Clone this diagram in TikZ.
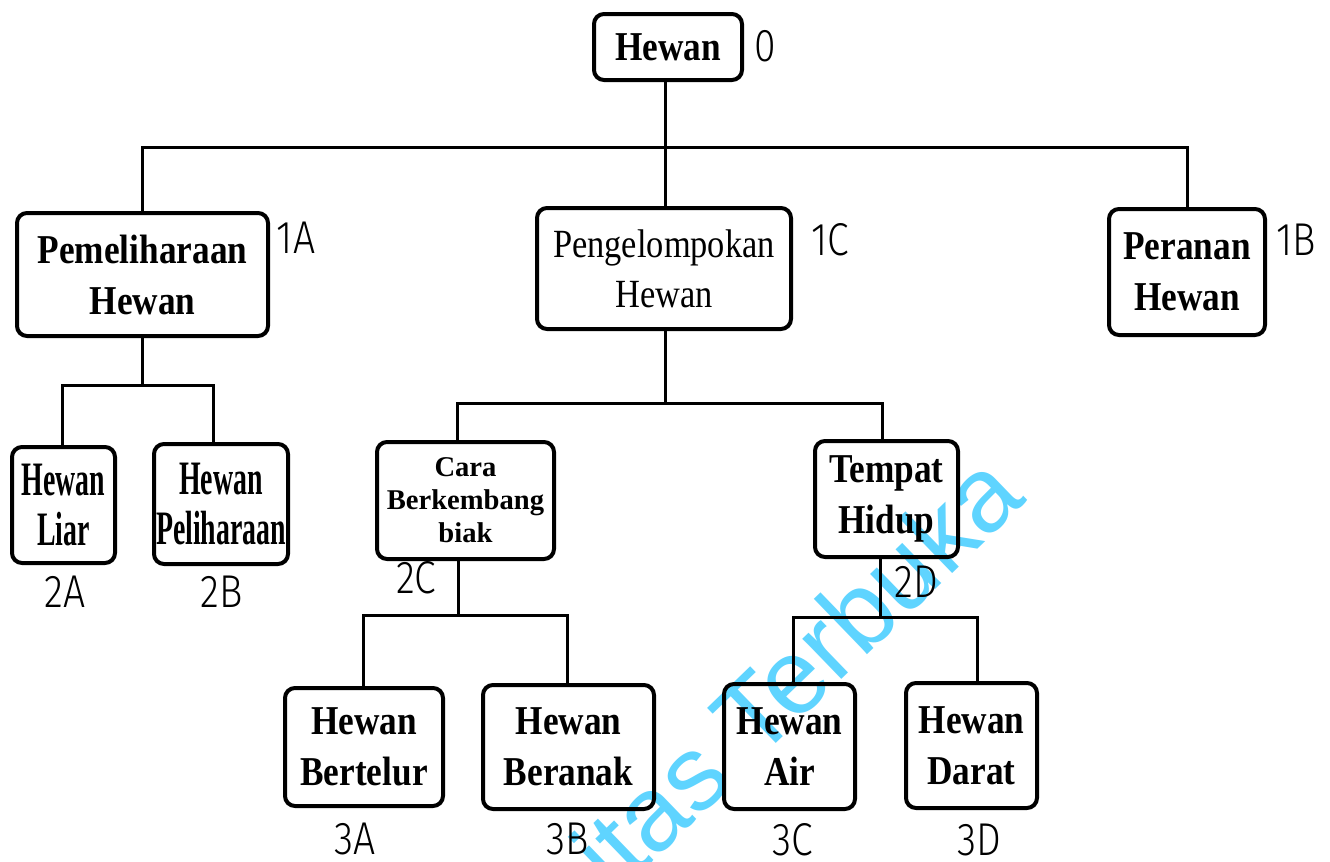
\documentclass[tikz,border=0pt]{standalone}
\usepackage{fontspec}
\setmainfont{Liberation Serif}
\newfontfamily\serA[FakeStretch=0.86]{Liberation Serif}
\newfontfamily\serB[FakeStretch=0.58]{Liberation Serif}
\newfontfamily\wmfont{Liberation Sans}
\IfFontExistsTF{Fira Sans Light}{\newfontfamily\lblfont[FakeStretch=0.85]{Fira Sans Light}}{\newfontfamily\lblfont[FakeStretch=0.8]{Liberation Sans}}
\definecolor{wmcyan}{RGB}{95,212,255}
\tikzset{
  box/.style={draw, line width=2pt, rounded corners=5pt, inner sep=0pt, align=center},
  tA/.style={font=\serA\bfseries\fontsize{20.5}{25.5}\selectfont},
  tR/.style={font=\serA\fontsize{20}{25}\selectfont},
  tB/.style={font=\serB\bfseries\fontsize{24}{25}\selectfont},
  tC/.style={font=\bfseries\fontsize{14.3}{16.5}\selectfont},
  conn/.style={line width=1.5pt},
  lbl/.style={font=\lblfont\fontsize{23}{23}\selectfont, inner sep=0pt},
  wm/.style={font=\wmfont\fontsize{53}{53}\selectfont, text=wmcyan, inner sep=0pt}
}
\begin{document}
\begin{tikzpicture}[x=0.5pt, y=-0.5pt]
\path[use as bounding box, fill=white] (0,0) rectangle (1330,862);

% watermark (under the drawing)
\node[wm, rotate=44, anchor=base east] (wmark) at (1028,500) {itas Terbuka};

% boxes
\node[box, tA, minimum width=74pt, minimum height=33pt] (n0) at (668,47) {Hewan};
\node[box, tA, minimum width=125.5pt, minimum height=61.5pt] (n1A) at (142.5,274.5) {Pemeliharaan\\Hewan};
\node[box, tR, minimum width=127pt, minimum height=60.5pt] (n1C) at (664,268.5) {Pengelompokan\\Hewan};
\node[box, tA, minimum width=78pt, minimum height=63pt] (n1B) at (1187,272) {Peranan\\Hewan};
\node[box, tB, minimum width=51.5pt, minimum height=58pt] (n2A) at (63.5,505) {Hewan\\Liar};
\node[box, tB, minimum width=67pt, minimum height=60pt] (n2B) at (221,504) {Hewan\\Peliharaan};
\node[box, tC, minimum width=88.5pt, minimum height=58.5pt] (n2C) at (465.5,500.5) {Cara\\Berkembang\\biak};
\node[box, tA, minimum width=71.5pt, minimum height=58pt] (n2D) at (886.5,499) {Tempat\\Hidup};
\node[box, tA, minimum width=79pt, minimum height=59pt] (n3A) at (364,747) {Hewan\\Bertelur};
\node[box, tA, minimum width=85.5pt, minimum height=62pt] (n3B) at (568.5,747) {Hewan\\Beranak};
\node[box, tA, minimum width=65.5pt, minimum height=62.5pt] (n3C) at (789.5,746.5) {Hewan\\Air};
\node[box, tA, minimum width=65.5pt, minimum height=62.5pt] (n3D) at (971.5,745.5) {Hewan\\Darat};

% labels
\node[lbl] (l0) at (765,46) {0};
\node[lbl] (l1A) at (296,238) {1A};
\node[lbl] (l1C) at (830,240) {1C};
\node[lbl] (l1B) at (1296,240) {1B};
\node[lbl] (l2A) at (65,592) {2A};
\node[lbl] (l2B) at (222,592) {2B};
\node[lbl] (l2C) at (416,578) {2C};
\node[lbl] (l2D) at (916,582) {2D};
\node[lbl] (l3A) at (355,839) {3A};
\node[lbl] (l3B) at (568,839) {3B};
\node[lbl] (l3C) at (793,840) {3C};
\node[lbl] (l3D) at (979,840) {3D};

% connectors level 0 -> 1
\coordinate (j0) at (665,147);
\draw[conn] (n0.south -| j0) -- (j0);
\draw[conn] (n1A.north) |- (j0) -| (n1B.north);
\draw[conn] (j0) -- (j0 |- n1C.north);

% 1A -> 2A, 2B
\coordinate (j1) at (142,385);
\coordinate (c2A) at (62,385);
\coordinate (c2B) at (213,385);
\draw[conn] (n1A.south -| j1) -- (j1);
\draw[conn] (c2A |- n2A.north) -- (c2A) -- (c2B) -- (c2B |- n2B.north);

% 1C -> 2C, 2D
\coordinate (j2) at (665,403);
\coordinate (c2C) at (457,403);
\coordinate (c2D) at (882,403);
\draw[conn] (n1C.south -| j2) -- (j2);
\draw[conn] (c2C |- n2C.north) -- (c2C) -- (c2D) -- (c2D |- n2D.north);

% 2C -> 3A, 3B
\coordinate (j3) at (458,615);
\coordinate (c3A) at (363,615);
\coordinate (c3B) at (567,615);
\draw[conn] (n2C.south -| j3) -- (j3);
\draw[conn] (c3A |- n3A.north) -- (c3A) -- (c3B) -- (c3B |- n3B.north);

% 2D -> 3C, 3D
\coordinate (j4) at (880,617);
\coordinate (c3C) at (793,617);
\coordinate (c3D) at (977,617);
\draw[conn] (n2D.south -| j4) -- (j4);
\draw[conn] (c3C |- n3C.north) -- (c3C) -- (c3D) -- (c3D |- n3D.north);
\end{tikzpicture}
\end{document}
